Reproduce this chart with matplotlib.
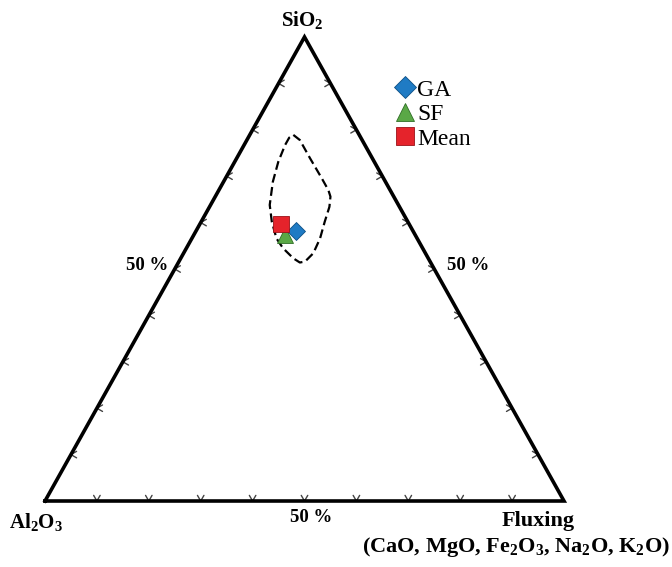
import matplotlib
matplotlib.use("Agg")
import matplotlib.pyplot as plt
from matplotlib.lines import Line2D
import numpy as np

plt.rcParams['font.family'] = ['Liberation Serif', 'DejaVu Serif']
plt.rcParams['mathtext.fontset'] = 'custom'
plt.rcParams['mathtext.rm'] = 'Liberation Serif:bold'
plt.rcParams['mathtext.it'] = 'Liberation Serif:bold'
plt.rcParams['mathtext.bf'] = 'Liberation Serif:bold'

# ternary compositions (fractions): SiO2, Al2O3, fluxing oxides
labels = ['GA', 'SF', 'Mean']
sio2 = [0.582, 0.573, 0.597]
al2o3 = [0.225, 0.251, 0.247]
flux = [0.193, 0.176, 0.156]

# dashed field enclosing the samples
field_sio2 = [0.789, 0.778, 0.739, 0.696, 0.670, 0.656, 0.634, 0.602, 0.566, 0.534, 0.516,
              0.514, 0.523, 0.545, 0.566, 0.602, 0.638, 0.688, 0.731, 0.767, 0.783]
field_al2o3 = [0.127, 0.120, 0.120, 0.119, 0.119, 0.122, 0.135, 0.160, 0.187, 0.216, 0.241,
               0.252, 0.260, 0.269, 0.271, 0.262, 0.248, 0.217, 0.185, 0.154, 0.138]
field_flux = [0.084, 0.102, 0.141, 0.185, 0.211, 0.222, 0.231, 0.238, 0.247, 0.250, 0.243,
              0.234, 0.217, 0.186, 0.163, 0.136, 0.114, 0.095, 0.084, 0.079, 0.079]

tick_vals = [0.1, 0.2, 0.3, 0.4, 0.5, 0.6, 0.7, 0.8, 0.9]


def to_xy(s, a, f):
    s = np.asarray(s, float)
    a = np.asarray(a, float)
    f = np.asarray(f, float)
    tot = s + a + f
    s, f = s / tot, f / tot
    return f + s / 2, s


W, H = 672, 567
fig = plt.figure(figsize=(W / 100, H / 100), dpi=100)
# triangle corners in pixels: (45,501), (564,501), apex y=37
ax = fig.add_axes([45 / W, (H - 501) / H, 519 / W, 464 / H])
ax.set_xlim(0, 1)
ax.set_ylim(0, 1)
ax.axis('off')

ax.plot([0, 1, 0.5, 0], [0, 0, 1, 0], color='black', lw=2.6, solid_joinstyle='miter',
        clip_on=False, zorder=2)

# chevron ticks, arm length in px converted to axes units
px_x, px_y = 1 / 519, 1 / 464
arm = 6.5
half = np.radians(30)
tick_kw = dict(color='#444444', lw=1.0, zorder=1, solid_capstyle='round')
for t in tick_vals:
    # bottom edge, opening upward
    x0, y0 = t, 0
    for sgn in (-1, 1):
        ax.plot([x0, x0 + sgn * arm * np.sin(half) * px_x], [y0, y0 + arm * np.cos(half) * px_y],
                **tick_kw)
    # left edge, opening right
    x0, y0 = t / 2, t
    for sgn in (-1, 1):
        ax.plot([x0, x0 + arm * np.cos(half) * px_x], [y0, y0 + sgn * arm * np.sin(half) * px_y],
                **tick_kw)
    # right edge, opening left
    x0, y0 = 1 - t / 2, t
    for sgn in (-1, 1):
        ax.plot([x0, x0 - arm * np.cos(half) * px_x], [y0, y0 + sgn * arm * np.sin(half) * px_y],
                **tick_kw)

fx, fy = to_xy(field_sio2, field_al2o3, field_flux)
ax.plot(np.append(fx, fx[0]), np.append(fy, fy[0]), color='black', lw=1.6,
        dashes=(4, 2), zorder=3)

styles = {
    'GA': dict(marker='D', color='#1f7bc4', ms=9.5, mec='#0d4f85'),
    'SF': dict(marker='^', color='#5aa846', ms=12, mec='#2f6e26'),
    'Mean': dict(marker='s', color='#e5232b', ms=12, mec='#9c1218'),
}
order = ['SF', 'GA', 'Mean']
px, py = to_xy(sio2, al2o3, flux)
for name in order:
    i = labels.index(name)
    st = styles[name]
    ax.plot(px[i], py[i], ls='none', marker=st['marker'], ms=st['ms'],
            mfc=st['color'], mec=st['mec'], mew=0.6, zorder=4)

leg_handles = [Line2D([], [], ls='none', marker=styles[n]['marker'], ms=styles[n]['ms'] + 1.5,
                      mfc=styles[n]['color'], mec=styles[n]['mec'], mew=0.6) for n in labels]
leg = ax.legend(leg_handles, labels, loc='upper left',
                bbox_to_anchor=(396 / W, 1 - 79 / H), bbox_transform=fig.transFigure,
                frameon=False, fontsize=17, handlelength=0.75, handletextpad=0.15,
                labelspacing=0.13, borderpad=0, borderaxespad=0)


def ftext(x, y, s, **kw):
    fig.text(x / W, 1 - y / H, s, fontweight='bold', **kw)


ftext(302, 20, 'SiO$_2$', ha='center', va='center', fontsize=15)
ftext(36, 522, 'Al$_2$O$_3$', ha='center', va='center', fontsize=15)
ftext(311, 518, '50 %', ha='center', va='center', fontsize=13.5)
ftext(147, 266, '50 %', ha='center', va='center', fontsize=13.5)
ftext(468, 266, '50 %', ha='center', va='center', fontsize=13.5)
ftext(538, 521, 'Fluxing', ha='center', va='center', fontsize=16)
ftext(362, 547, '(CaO, MgO, Fe$_2$O$_3$, Na$_2$O, K$_2$O)', ha='left', va='center', fontsize=16)

fig.savefig('out.png', dpi=100)
